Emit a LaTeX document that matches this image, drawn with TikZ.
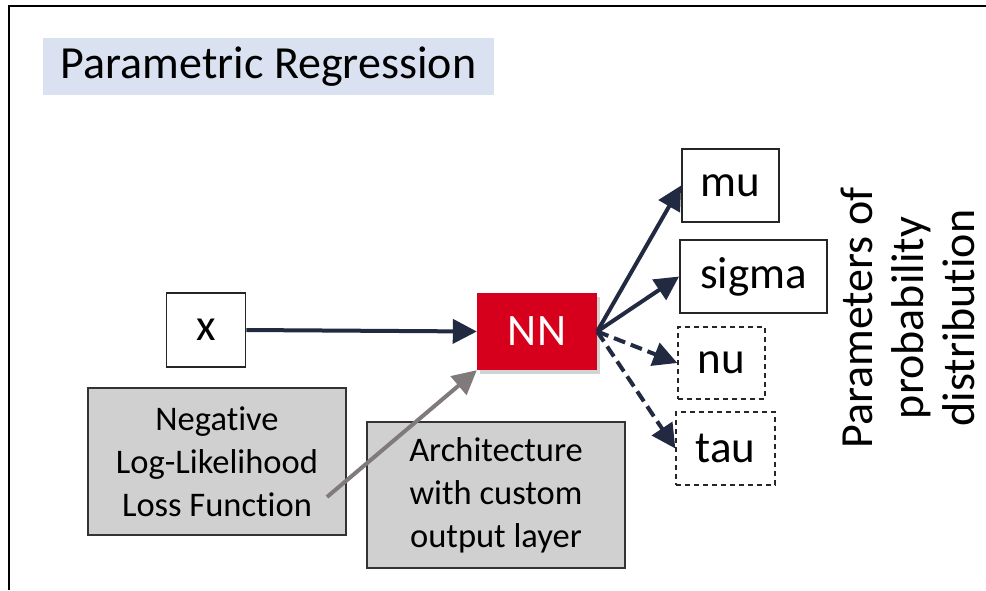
\documentclass[tikz,border=0pt]{standalone}
\usepackage{fontspec}
\setmainfont{Carlito}[Ligatures=NoCommon]
\usetikzlibrary{arrows.meta,shadows}
\definecolor{titlebg}{RGB}{218,225,240}
\definecolor{navy}{RGB}{34,42,66}
\definecolor{nnred}{RGB}{214,0,28}
\definecolor{boxgray}{RGB}{208,208,208}
\definecolor{arrowgray}{RGB}{128,122,122}
\tikzset{
  outbox/.style={draw=black!85, line width=1.8pt, fill=white, inner sep=0pt, font=\fontsize{45}{53}\selectfont},
  dashbox/.style={outbox, line width=1.3pt, dash pattern=on 5pt off 4pt},
  graybox/.style={draw=black!80, line width=1.8pt, fill=boxgray, inner sep=0pt, align=center, font=\fontsize{34.5}{43}\selectfont},
  conn/.style={navy, line width=4pt, -{Triangle[length=24pt,width=24pt]}},
  dconn/.style={conn, dash pattern=on 12pt off 6pt},
}
\begin{document}
\begin{tikzpicture}[x=1pt,y=-1pt]
\useasboundingbox (0,0) rectangle (986,590);
\fill[white] (0,0) rectangle (986,590);
\draw[line width=2.5pt, black] (9,590) -- (9,6) -- (986,6);
\node[fill=titlebg, minimum width=451pt, minimum height=57pt, inner sep=0pt, font=\fontsize{46}{53}\selectfont] (title) at (268.5,66.5) {Parametric Regression};
\node[outbox, minimum width=79pt, minimum height=74pt] (x) at (206,330) {x};
\node[fill=nnred, text=white, inner sep=0pt, minimum width=120pt, minimum height=77pt, font=\fontsize{45}{53}\selectfont, drop shadow={opacity=0.35, shadow xshift=3pt, shadow yshift=-4pt}] (nn) at (537,331.5) {NN};
\node[outbox, minimum width=97pt, minimum height=73pt] (mu) at (730.5,185.5) {mu};
\node[outbox, minimum width=147pt, minimum height=73pt] (sigma) at (753.5,276.5) {sigma};
\node[dashbox, minimum width=87pt, minimum height=72pt] (nu) at (721.5,363) {nu};
\node[dashbox, minimum width=99pt, minimum height=73pt] (tau) at (725.5,448.5) {tau};
\node[graybox, minimum width=258pt, minimum height=147pt] (nll) at (217,461.5) {Negative\\Log-Likelihood\\Loss Function};
\node[graybox, minimum width=258pt, minimum height=146pt] (arch) at (496,495) {Architecture\\with custom\\output layer};
\node[rotate=90, anchor=south, inner sep=0pt, align=center, font=\fontsize{46}{51}\selectfont] (params) at (975,318) {Parameters of\\probability\\distribution};
\coordinate (gstart) at (327,497);
\draw[conn] (x.east) -- (nn.west);
\draw[arrowgray, line width=4pt, -{Triangle[length=24pt,width=24pt]}] (gstart) -- (nn.south west);
\draw[conn] (nn.east) -- (mu.west);
\draw[conn] (nn.east) -- (sigma.west);
\draw[dconn] (nn.east) -- (nu.west);
\draw[dconn] (nn.east) -- (tau.west);
\end{tikzpicture}
\end{document}
